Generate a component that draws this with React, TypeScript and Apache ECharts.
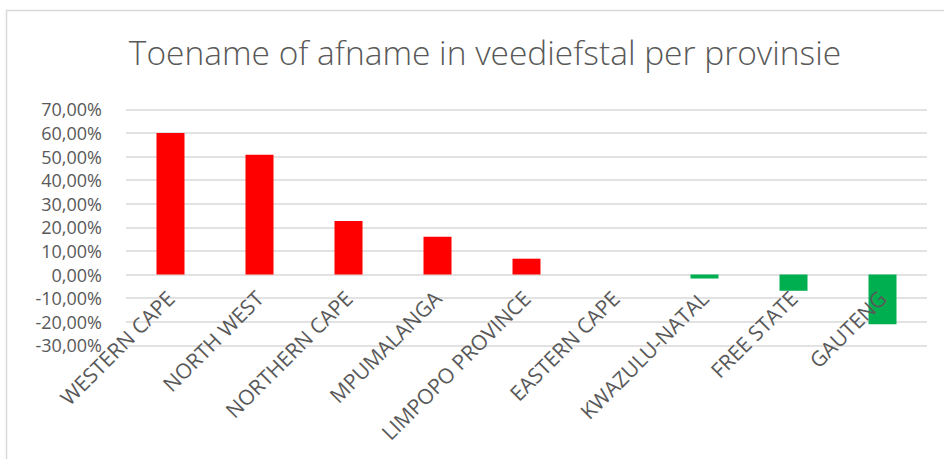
import React, { useEffect, useRef } from "react";
import * as echarts from "echarts";

const title = "Toename of afname in veediefstal per provinsie";
const provinces = [
  "WESTERN CAPE",
  "NORTH WEST",
  "NORTHERN CAPE",
  "MPUMALANGA",
  "LIMPOPO PROVINCE",
  "EASTERN CAPE",
  "KWAZULU-NATAL",
  "FREE STATE",
  "GAUTENG",
];
const changes = [0.6, 0.507, 0.227, 0.16, 0.067, 0, -0.017, -0.069, -0.211];
const yMin = -0.3;
const yMax = 0.7;
const yStep = 0.1;

const RED = "#FF0000";
const GREEN = "#00B050";
const TEXT = "#595959";
const GRID = "#D9D9D9";
const FONT = "'Open Sans', sans-serif";

const GRID_TOP = 109.3;
const GRID_BOTTOM = 113.7;
const PLOT_H = 459 - GRID_TOP - GRID_BOTTOM;
// shift the category axis up from the plot bottom to the zero line
const ZERO_OFFSET = -PLOT_H * ((0 - yMin) / (yMax - yMin));

export default function App() {
  const ref = useRef<HTMLDivElement>(null);
  useEffect(() => {
    if (!ref.current) return;
    const chart = echarts.init(ref.current, null, { renderer: "svg" });
    chart.setOption({
      animation: false,
      backgroundColor: "#ffffff",
      textStyle: { fontFamily: FONT },
      title: {
        text: title,
        left: 480,
        textAlign: "center",
        top: 30,
        textStyle: { fontFamily: FONT, fontSize: 33.5, fontWeight: 300, color: TEXT },
      },
      graphic: [
        {
          type: "rect",
          shape: { x: 6.5, y: 10.5, width: 1000, height: 1000 },
          style: { fill: "none", stroke: GRID, lineWidth: 1.5 },
          silent: true,
        },
      ],
      grid: {
        left: 126,
        right: 17,
        top: GRID_TOP,
        bottom: GRID_BOTTOM,
        containLabel: false,
        outerBoundsMode: "none",
      },
      xAxis: {
        type: "category",
        data: provinces,
        position: "bottom",
        offset: ZERO_OFFSET,
        z: 10,
        axisTick: { show: false },
        axisLine: { show: false, onZero: false },
        axisLabel: {
          rotate: 45,
          interval: 0,
          margin: 20,
          color: TEXT,
          fontFamily: FONT,
          fontSize: 21,
          lineHeight: 21,
        },
      },
      yAxis: {
        type: "value",
        min: yMin,
        max: yMax,
        interval: yStep,
        axisLine: { show: false },
        axisTick: { show: false },
        splitLine: { lineStyle: { color: GRID, width: 1.5 } },
        axisLabel: {
          color: TEXT,
          fontFamily: FONT,
          fontSize: 18,
          lineHeight: 18,
          margin: 24,
          formatter: (v: number) => {
            const r = Math.round(v * 10000) / 100;
            return r.toFixed(2).replace(".", ",") + "%";
          },
        },
      },
      series: [
        {
          type: "bar",
          data: changes.map((v) => ({
            value: v,
            itemStyle: { color: v >= 0 ? RED : GREEN },
          })),
          barWidth: 28,
        },
      ],
    });
    return () => chart.dispose();
  }, []);
  return (
    <div
      ref={ref}
      style={{ position: "fixed", left: 0, top: 0, width: 944, height: 459 }}
    />
  );
}
